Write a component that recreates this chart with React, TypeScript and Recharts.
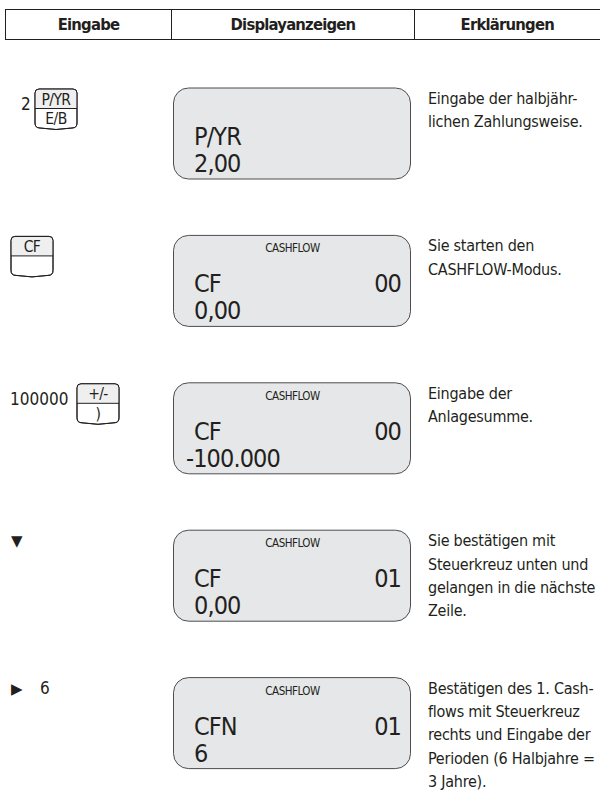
import { Scatter, ScatterChart, XAxis, YAxis } from 'recharts';

// one entry per step of the procedure, top to bottom
const steps = [0, 1, 2, 3, 4];
const inputValues = ['2', '', '100000', '', '6'];
const arrowKeys = ['', '', '', '▼', '▶'];
const keyTops = ['P/YR', 'CF', '+/-', '', ''];
const keyBottoms = ['E/B', '', ')', '', ''];
const displayHeads = ['', 'CASHFLOW', 'CASHFLOW', 'CASHFLOW', 'CASHFLOW'];
const displayLabels = ['P/YR', 'CF', 'CF', 'CF', 'CFN'];
const displayCounters = ['', '00', '00', '01', '01'];
const displayValues = ['2,00', '0,00', '-100.000', '0,00', '6'];
const explanations = [
  ['Eingabe der halbjähr-', 'lichen Zahlungsweise.'],
  ['Sie starten den', 'CASHFLOW-Modus.'],
  ['Eingabe der', 'Anlagesumme.'],
  ['Sie bestätigen mit', 'Steuerkreuz unten und', 'gelangen in die nächste', 'Zeile.'],
  [
    'Bestätigen des 1. Cash-',
    'flows mit Steuerkreuz',
    'rechts und Eingabe der',
    'Perioden (6 Halbjahre =',
    '3 Jahre).',
  ],
];
const columnTitles = ['Eingabe', 'Displayanzeigen', 'Erklärungen'];

const FONT = "'Liberation Sans Narrow', 'DejaVu Sans Condensed', 'Open Sans', sans-serif";
const INK = '#231f20';
const W = 600;
const H = 795;

const rows = steps.map((step, i) => ({
  x: 0,
  step,
  input: inputValues[i],
  arrow: arrowKeys[i],
  keyTop: keyTops[i],
  keyBottom: keyBottoms[i],
  head: displayHeads[i],
  label: displayLabels[i],
  counter: displayCounters[i],
  value: displayValues[i],
  lines: explanations[i],
}));

// keycap outline: flat top with small radius, slightly bulging bottom
function keyPath(x: number, y: number, w: number, h: number) {
  return [
    `M${x},${y + 4}`,
    `Q${x},${y} ${x + 4},${y}`,
    `L${x + w - 4},${y}`,
    `Q${x + w},${y} ${x + w},${y + 4}`,
    `L${x + w},${y + h - 7}`,
    `Q${x + w},${y + h - 2} ${x + w - 5},${y + h - 2}`,
    `Q${x + w / 2},${y + h + 1} ${x + 5},${y + h - 2}`,
    `Q${x},${y + h - 2} ${x},${y + h - 7}`,
    'Z',
  ].join(' ');
}

function StepRow(props: any) {
  const { cy, payload } = props;
  if (cy == null || !payload) return null;
  const top = cy - 46;
  const len = payload.input.length;
  const textX = payload.arrow ? 40 : len === 1 ? 21 : 10;
  const textY = payload.arrow ? top + 16 : top + 22;
  const keyX = len ? (len === 1 ? 35 : 77) : 11;
  const kw = 42;
  const kh = 41;
  const ky = top + 1;
  const valueX = payload.value.startsWith('-') ? 186 : 194;
  return (
    <g fontFamily={FONT} fill={INK}>
      {/* Eingabe */}
      {payload.arrow && (
        <text x={11} y={top + 16} fontSize={15} fontFamily="'DejaVu Sans', sans-serif">
          {payload.arrow}
        </text>
      )}
      {payload.input && (
        <text x={textX} y={textY} fontSize={17}>
          {payload.input}
        </text>
      )}
      {payload.keyTop && (
        <g>
          <path d={keyPath(keyX, ky, kw, kh)} fill="#fff" stroke={INK} strokeWidth={1} />
          <path
            d={`M${keyX + 0.5},${ky + 19} L${keyX + 0.5},${ky + 4} Q${keyX + 0.5},${ky + 0.5} ${keyX + 4},${ky + 0.5} L${keyX + kw - 4},${ky + 0.5} Q${keyX + kw - 0.5},${ky + 0.5} ${keyX + kw - 0.5},${ky + 4} L${keyX + kw - 0.5},${ky + 19} Z`}
            fill="#efefef"
          />
          <path d={keyPath(keyX, ky, kw, kh)} fill="none" stroke={INK} strokeWidth={1} />
          <line x1={keyX} x2={keyX + kw} y1={ky + 19.5} y2={ky + 19.5} stroke={INK} strokeWidth={1} />
          <text
            x={keyX + kw / 2}
            y={ky + 15.5}
            fontSize={15.5}
            letterSpacing={-0.6}
            textAnchor="middle"
          >
            {payload.keyTop}
          </text>
          {payload.keyBottom && (
            <text
              x={keyX + kw / 2}
              y={ky + 35}
              fontSize={15.5}
              letterSpacing={-0.6}
              textAnchor="middle"
            >
              {payload.keyBottom}
            </text>
          )}
        </g>
      )}

      {/* Displayanzeigen */}
      <rect
        x={173.5}
        y={top}
        width={237}
        height={91}
        rx={15}
        fill="#e6e7e8"
        stroke="#4d4d4f"
        strokeWidth={1}
      />
      {payload.head && (
        <text x={292.5} y={top + 17} fontSize={11.5} letterSpacing={-0.5} textAnchor="middle">
          {payload.head}
        </text>
      )}
      <text x={194} y={top + 57} fontSize={25} letterSpacing={-0.9}>
        {payload.label}
      </text>
      {payload.counter && (
        <text x={401} y={top + 57} fontSize={25} letterSpacing={-0.9} textAnchor="end">
          {payload.counter}
        </text>
      )}
      <text x={valueX} y={top + 84} fontSize={25} letterSpacing={-0.9}>
        {payload.value}
      </text>

      {/* Erklärungen */}
      {payload.lines.map((line: string, i: number) => (
        <text key={i} x={428} y={top + 16 + i * 23.3} fontSize={16} letterSpacing={-0.25}>
          {line}
        </text>
      ))}
    </g>
  );
}

function Header() {
  const cols = [5.5, 171.5, 414.5, W];
  return (
    <g fontFamily={FONT}>
      <line x1={5} x2={W} y1={9.5} y2={9.5} stroke={INK} strokeWidth={1} />
      <line x1={5} x2={W} y1={39.5} y2={39.5} stroke={INK} strokeWidth={1} />
      {cols.slice(0, 3).map((c) => (
        <line key={c} x1={c} x2={c} y1={9.5} y2={39.5} stroke={INK} strokeWidth={1} />
      ))}
      {columnTitles.map((t, i) => (
        <text
          key={t}
          x={(cols[i] + cols[i + 1]) / 2}
          y={30}
          fontSize={16.5}
          fontWeight="bold"
          letterSpacing={-0.8}
          textAnchor="middle"
          fill={INK}
        >
          {t}
        </text>
      ))}
    </g>
  );
}

export default function App() {
  return (
    <div style={{ position: 'absolute', left: 0, top: 0, width: W, height: H, background: '#fff' }}>
      <ScatterChart
        width={W}
        height={H}
        data={rows}
        margin={{ top: 134, right: 0, bottom: 71.4, left: 0 }}
      >
        <XAxis type="number" dataKey="x" domain={[0, 1]} hide />
        <YAxis type="number" dataKey="step" domain={[0, 4]} reversed hide />
        <Header />
        <Scatter data={rows} dataKey="step" shape={StepRow} isAnimationActive={false} />
      </ScatterChart>
    </div>
  );
}
